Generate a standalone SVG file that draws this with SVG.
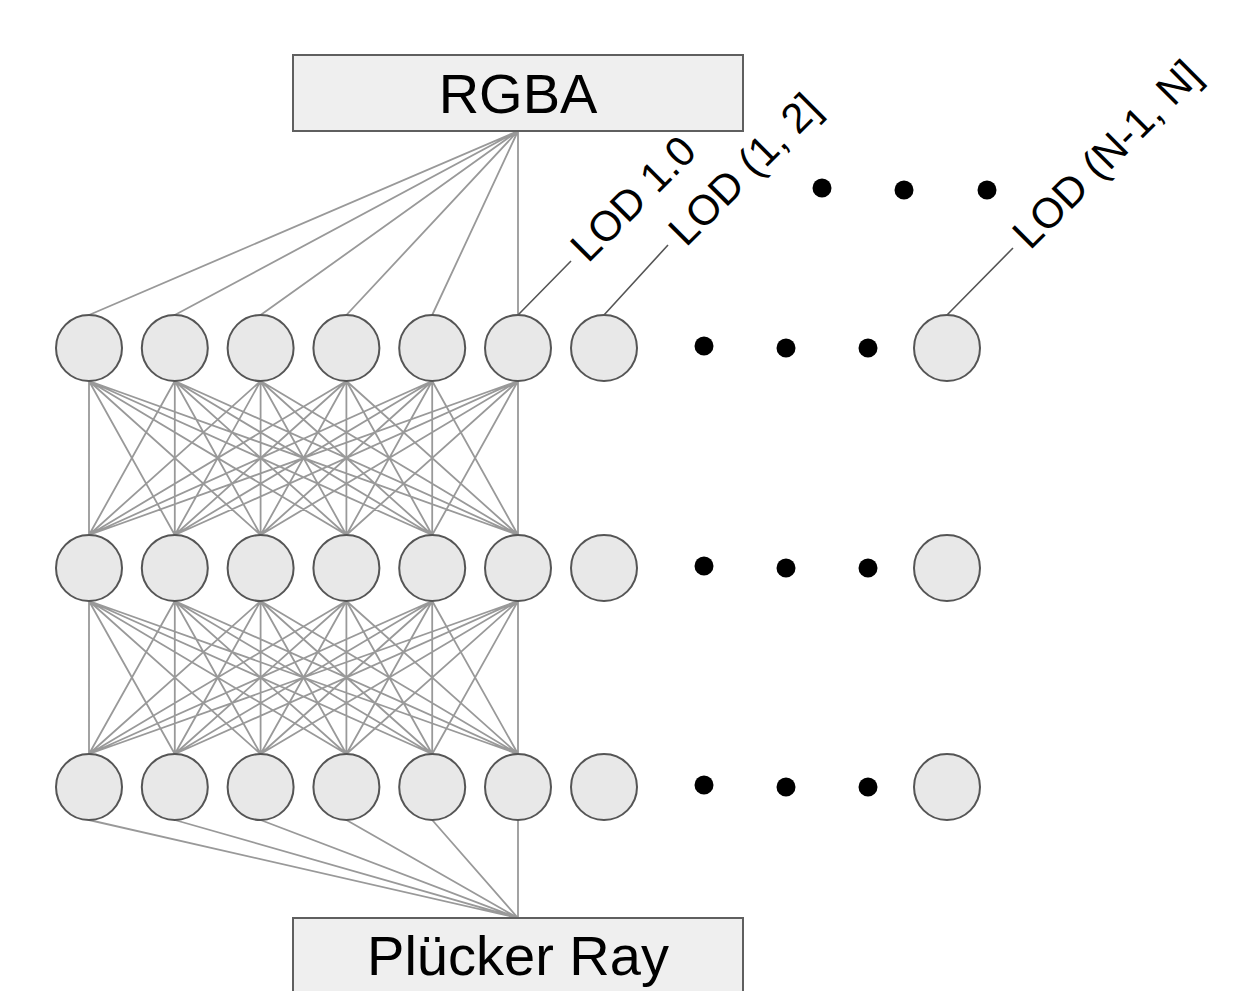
<svg xmlns="http://www.w3.org/2000/svg" width="1260" height="991" viewBox="0 0 1260 991">
<defs>
<style>
.box{fill:#efefef;stroke:#5f5f5f;stroke-width:2}
.node{fill:#e8e8e8;stroke:#555555;stroke-width:2}
.edge{stroke:#999999;stroke-width:1.8;fill:none}
.lead{stroke:#555555;stroke-width:1.6;fill:none}
.dot{fill:#000000}
.big{font-family:"Liberation Sans",Arial,sans-serif;font-size:56px;fill:#000;text-anchor:middle}
.lab{font-family:"Liberation Sans",Arial,sans-serif;font-size:42px;fill:#000}
</style>
</defs>
<rect width="1260" height="991" fill="#ffffff"/>
<g id="connectors">
<!-- RGBA to row 1 -->
<path class="edge" d="M518 131L89 315M518 131L174.8 315M518 131L260.6 315M518 131L346.4 315M518 131L432.2 315M518 131L518 315"/>
<!-- row1 to row2 -->
<path class="edge" d="M89 381L89 535M89 381L174.8 535M89 381L260.6 535M89 381L346.4 535M89 381L432.2 535M89 381L518 535
M174.8 381L89 535M174.8 381L174.8 535M174.8 381L260.6 535M174.8 381L346.4 535M174.8 381L432.2 535M174.8 381L518 535
M260.6 381L89 535M260.6 381L174.8 535M260.6 381L260.6 535M260.6 381L346.4 535M260.6 381L432.2 535M260.6 381L518 535
M346.4 381L89 535M346.4 381L174.8 535M346.4 381L260.6 535M346.4 381L346.4 535M346.4 381L432.2 535M346.4 381L518 535
M432.2 381L89 535M432.2 381L174.8 535M432.2 381L260.6 535M432.2 381L346.4 535M432.2 381L432.2 535M432.2 381L518 535
M518 381L89 535M518 381L174.8 535M518 381L260.6 535M518 381L346.4 535M518 381L432.2 535M518 381L518 535"/>
<!-- row2 to row3 -->
<path class="edge" d="M89 601L89 754M89 601L174.8 754M89 601L260.6 754M89 601L346.4 754M89 601L432.2 754M89 601L518 754
M174.8 601L89 754M174.8 601L174.8 754M174.8 601L260.6 754M174.8 601L346.4 754M174.8 601L432.2 754M174.8 601L518 754
M260.6 601L89 754M260.6 601L174.8 754M260.6 601L260.6 754M260.6 601L346.4 754M260.6 601L432.2 754M260.6 601L518 754
M346.4 601L89 754M346.4 601L174.8 754M346.4 601L260.6 754M346.4 601L346.4 754M346.4 601L432.2 754M346.4 601L518 754
M432.2 601L89 754M432.2 601L174.8 754M432.2 601L260.6 754M432.2 601L346.4 754M432.2 601L432.2 754M432.2 601L518 754
M518 601L89 754M518 601L174.8 754M518 601L260.6 754M518 601L346.4 754M518 601L432.2 754M518 601L518 754"/>
<!-- row3 to Plucker -->
<path class="edge" d="M89 820L518 918M174.8 820L518 918M260.6 820L518 918M346.4 820L518 918M432.2 820L518 918M518 820L518 918"/>
<!-- label leaders -->
<path class="lead" d="M518 315L571 261M604 315L668 245M947 315L1013 248"/>
</g>
<g id="rgba">
<rect class="box" x="293" y="55" width="450" height="76"/>
<text class="big" x="518" y="113">RGBA</text>
</g>
<g id="plucker">
<rect class="box" x="293" y="918" width="450" height="80"/>
<text class="big" x="518" y="975">Plücker Ray</text>
</g>
<g id="row1">
<circle class="node" cx="89" cy="348" r="33"/>
<circle class="node" cx="174.8" cy="348" r="33"/>
<circle class="node" cx="260.6" cy="348" r="33"/>
<circle class="node" cx="346.4" cy="348" r="33"/>
<circle class="node" cx="432.2" cy="348" r="33"/>
<circle class="node" cx="518" cy="348" r="33"/>
<circle class="node" cx="604" cy="348" r="33"/>
<circle class="dot" cx="704" cy="346" r="9.5"/>
<circle class="dot" cx="786" cy="348" r="9.5"/>
<circle class="dot" cx="868" cy="348" r="9.5"/>
<circle class="node" cx="947" cy="348" r="33"/>
</g>
<g id="row2">
<circle class="node" cx="89" cy="568" r="33"/>
<circle class="node" cx="174.8" cy="568" r="33"/>
<circle class="node" cx="260.6" cy="568" r="33"/>
<circle class="node" cx="346.4" cy="568" r="33"/>
<circle class="node" cx="432.2" cy="568" r="33"/>
<circle class="node" cx="518" cy="568" r="33"/>
<circle class="node" cx="604" cy="568" r="33"/>
<circle class="dot" cx="704" cy="566" r="9.5"/>
<circle class="dot" cx="786" cy="568" r="9.5"/>
<circle class="dot" cx="868" cy="568" r="9.5"/>
<circle class="node" cx="947" cy="568" r="33"/>
</g>
<g id="row3">
<circle class="node" cx="89" cy="787" r="33"/>
<circle class="node" cx="174.8" cy="787" r="33"/>
<circle class="node" cx="260.6" cy="787" r="33"/>
<circle class="node" cx="346.4" cy="787" r="33"/>
<circle class="node" cx="432.2" cy="787" r="33"/>
<circle class="node" cx="518" cy="787" r="33"/>
<circle class="node" cx="604" cy="787" r="33"/>
<circle class="dot" cx="704" cy="785" r="9.5"/>
<circle class="dot" cx="786" cy="787" r="9.5"/>
<circle class="dot" cx="868" cy="787" r="9.5"/>
<circle class="node" cx="947" cy="787" r="33"/>
</g>
<g id="lod-dots">
<circle class="dot" cx="822" cy="188" r="9.5"/>
<circle class="dot" cx="904" cy="190" r="9.5"/>
<circle class="dot" cx="987" cy="190" r="9.5"/>
</g>
<g id="lod-labels">
<text class="lab" transform="translate(588 264) rotate(-45)">LOD 1.0</text>
<text class="lab" transform="translate(686 248) rotate(-45)">LOD (1, 2]</text>
<text class="lab" transform="translate(1030 251) rotate(-45)">LOD (N-1, N]</text>
</g>
</svg>
